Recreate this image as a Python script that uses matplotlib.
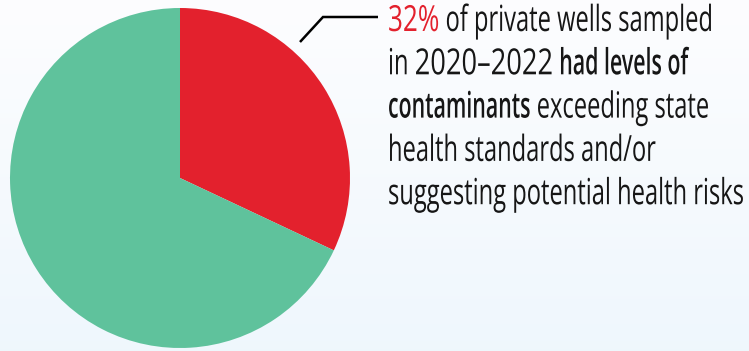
import numpy as np
import matplotlib
matplotlib.use("Agg")
import matplotlib.pyplot as plt
from matplotlib.font_manager import FontProperties, findfont, get_font
from matplotlib.textpath import TextPath
from matplotlib.patches import PathPatch
from matplotlib.transforms import Affine2D

# data
shares = [32, 68]
share_names = ["exceeding / potential risk", "other"]
share_colors = ["#e3212d", "#5fc29c"]

# callout text, one list of (text, style) per line
callout = [
    [("32%", "red"), (" of private wells sampled", "normal")],
    [("in ", "normal"), ("2020\u20132022", "digits"), (" ", "normal"),
     ("had levels of", "bold")],
    [("contaminants", "bold"), (" exceeding state", "normal")],
    [("health standards and/or", "normal")],
    [("suggesting potential health risks", "normal")],
]

W, H = 749, 351
fig = plt.figure(figsize=(W / 100, H / 100), dpi=100)

# background gradient
bg = fig.add_axes([0, 0, 1, 1])
grad = np.linspace(0, 1, 256).reshape(-1, 1)
top = np.array([0.992, 0.992, 0.998])
bot = np.array([0.937, 0.969, 0.992])
img = top + (bot - top) * grad[..., None].reshape(-1, 1, 1)
bg.imshow(img, aspect="auto", extent=[0, W, H, 0])
bg.set_xlim(0, W)
bg.set_ylim(H, 0)
bg.axis("off")

# pie
cx, cy, r = 180, 178, 170
pax = fig.add_axes([(cx - r) / W, (H - cy - r) / H, 2 * r / W, 2 * r / H])
pax.pie(shares, colors=share_colors, startangle=90, counterclock=False,
        wedgeprops=dict(linewidth=0))
pax.set_xlim(-1, 1)
pax.set_ylim(-1, 1)
pax.set_aspect("equal")
pax.axis("off")

# leader line
bg.plot([300, 323, 378], [42, 17, 17], color="black", lw=1.8,
        solid_capstyle="butt", solid_joinstyle="miter")

# condensed text drawn as scaled glyph paths
fp_reg = FontProperties(family="Open Sans", weight="normal")
fp_bold = FontProperties(family="Open Sans", weight="semibold")


def advance(s, fp):
    font = get_font(findfont(fp))
    font.set_size(100, 72)
    return sum(font.load_char(ord(c)).linearHoriAdvance for c in s) / 65536 / 100


em = 36.0
target_w = 356
sx = target_w / (advance(callout[4][0][0], fp_reg) * em)
stretch = {"normal": 1.0, "bold": 0.9, "digits": 1.15, "red": 1.1}
x0, base0, step = 388, 31, 43.3

for i, line in enumerate(callout):
    x = x0
    y = base0 + i * step
    for text, style in line:
        fp = fp_bold if style == "bold" else fp_reg
        color = "#e3212d" if style == "red" else "#161616"
        sxx = sx * stretch[style]
        if text.strip():
            tp = TextPath((0, 0), text, size=1, prop=fp)
            tr = Affine2D().scale(sxx * em, -em).translate(x, y)
            bg.add_patch(PathPatch(tr.transform_path(tp), facecolor=color,
                                   edgecolor="none"))
        x += advance(text, fp) * sxx * em

fig.savefig("out.png", dpi=100)
